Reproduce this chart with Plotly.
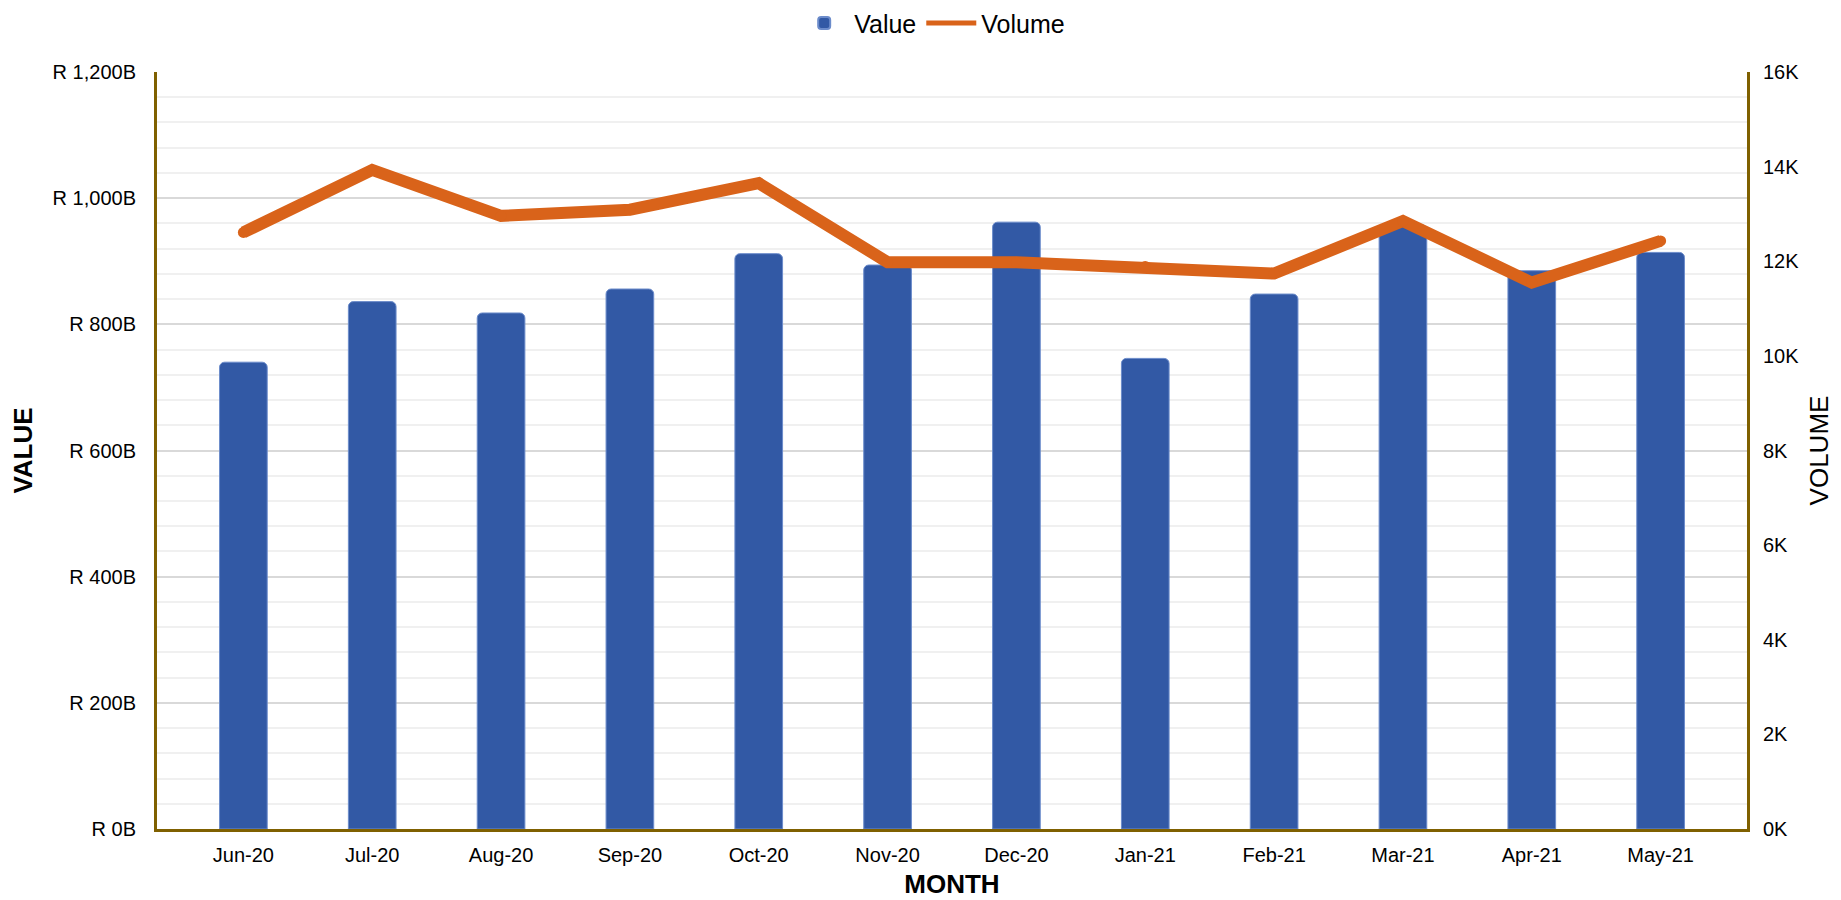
import plotly.graph_objects as go

months = ["Jun-20", "Jul-20", "Aug-20", "Sep-20", "Oct-20", "Nov-20",
          "Dec-20", "Jan-21", "Feb-21", "Mar-21", "Apr-21", "May-21"]
value_bn = [740, 836, 818, 856, 912, 894, 962, 746, 848, 958, 885, 914]
volume_k = [12.61, 13.93, 12.96, 13.09, 13.65, 11.98, 11.98, 11.89, 11.74, 12.85, 11.55, 12.43]

left_ticks = [0, 200, 400, 600, 800, 1000, 1200]
left_labels = ["R 0B", "R 200B", "R 400B", "R 600B", "R 800B", "R 1,000B", "R 1,200B"]
right_ticks = [0, 2, 4, 6, 8, 10, 12, 14, 16]
right_labels = ["0K", "2K", "4K", "6K", "8K", "10K", "12K", "14K", "16K"]

FONT = "Liberation Sans, Arial, sans-serif"
AXIS_COL = "#7F6000"
LINE_COL = "#D9631A"

fig = go.Figure()
fig.add_trace(go.Bar(
    x=months, y=value_bn, name="Value",
    marker=dict(color="#3259A5", line=dict(color="#6C8CCB", width=1), cornerradius=5),
    yaxis="y",
))
fig.add_trace(go.Scatter(
    x=months, y=volume_k, name="Volume", mode="lines",
    line=dict(color=LINE_COL, width=12),
    yaxis="y2",
))
fig.add_trace(go.Scatter(
    x=months, y=volume_k, name="Volume", mode="markers", showlegend=False,
    marker=dict(color=LINE_COL, size=11),
    yaxis="y2",
))

fig.update_layout(
    width=1841, height=900,
    margin=dict(l=149, r=102, t=64, b=79, autoexpand=False),
    paper_bgcolor="white", plot_bgcolor="white",
    font=dict(family=FONT, size=20, color="#000000"),
    bargap=0.63,
    showlegend=True,
    legend=dict(orientation="h", xref="container", yref="container",
                x=0.502, xanchor="center", y=0.983, yanchor="middle",
                font=dict(size=25), itemwidth=50, itemsizing="constant"),
    xaxis=dict(
        type="category", showgrid=False, showline=True, linecolor=AXIS_COL, linewidth=3,
        ticks="", tickfont=dict(size=20), automargin=False, ticklabelstandoff=6,
        title=dict(text="<b>MONTH</b>", font=dict(size=26), standoff=10),
    ),
    yaxis=dict(
        range=[0, 1200], tickmode="array", tickvals=left_ticks, ticktext=left_labels,
        showline=True, linecolor=AXIS_COL, linewidth=3, automargin=False,
        showgrid=True, gridcolor="#D9D9D9", gridwidth=1.5, zeroline=False,
        minor=dict(dtick=40, showgrid=True, gridcolor="#F0F0F0", gridwidth=1.5),
        ticks="", ticklabelstandoff=14, tickfont=dict(size=20),
        title=dict(text="<b>VALUE</b>", font=dict(size=26), standoff=14),
    ),
    yaxis2=dict(
        range=[0, 16], tickmode="array", tickvals=right_ticks, ticktext=right_labels,
        overlaying="y", side="right", showline=True, linecolor=AXIS_COL, linewidth=3,
        showgrid=False, zeroline=False, ticks="", ticklabelstandoff=9, automargin=False,
        tickfont=dict(size=20),
        title=dict(text="VOLUME", font=dict(size=26), standoff=12),
    ),
)

fig.write_html("out.html")
